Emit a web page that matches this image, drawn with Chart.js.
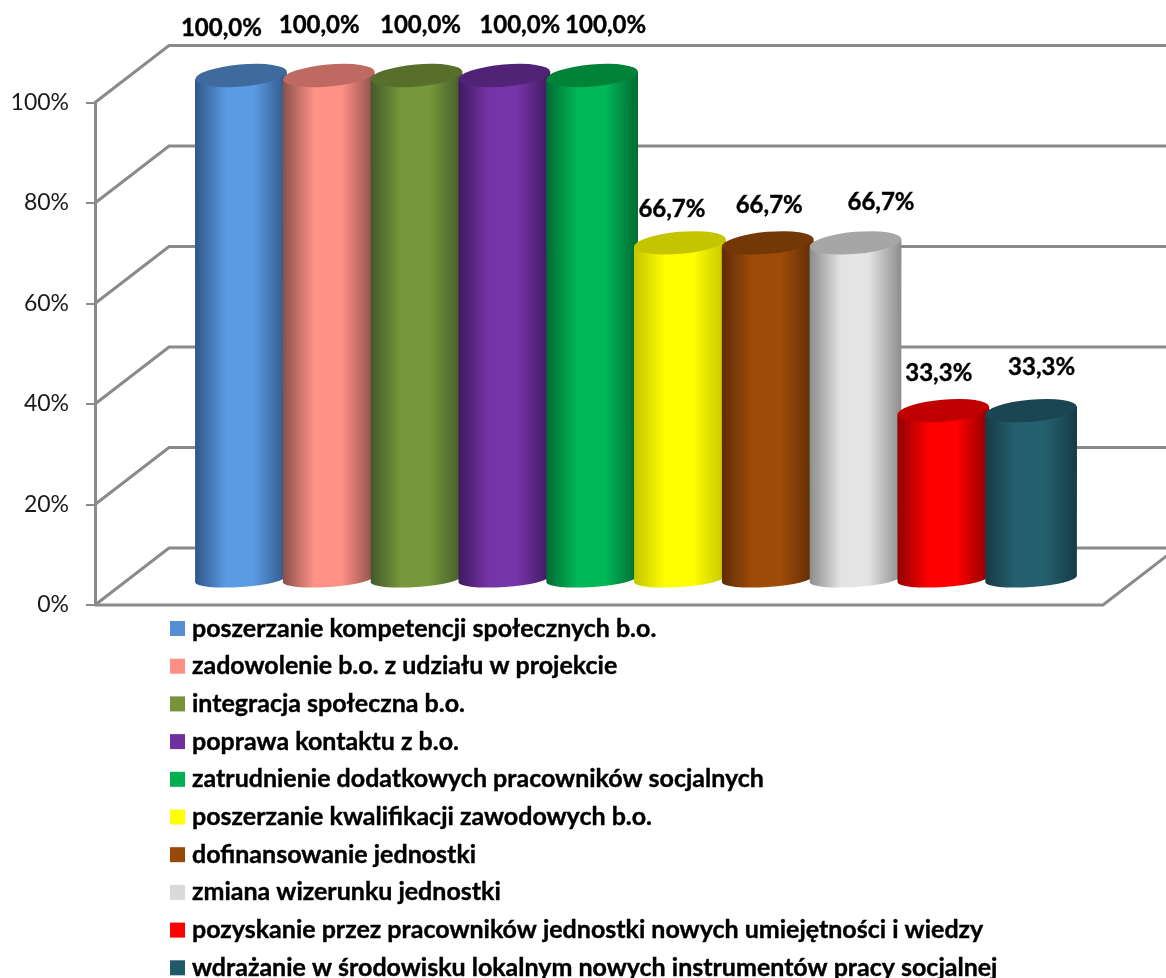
<!DOCTYPE html>
<html>
<head>
<meta charset="utf-8">
<title>Chart</title>
<script src="https://cdn.jsdelivr.net/npm/chart.js@4/dist/chart.umd.min.js"></script>
<style>
  html, body { margin: 0; padding: 0; background: #fff; }
  canvas { display: block; }
</style>
</head>
<body>
<canvas id="myChart" width="1166" height="978"></canvas>
<script>
const categories = [
  "poszerzanie kompetencji społecznych b.o.",
  "zadowolenie b.o. z udziału w projekcie",
  "integracja społeczna b.o.",
  "poprawa kontaktu z b.o.",
  "zatrudnienie dodatkowych pracowników socjalnych",
  "poszerzanie kwalifikacji zawodowych b.o.",
  "dofinansowanie jednostki",
  "zmiana wizerunku jednostki",
  "pozyskanie przez pracowników jednostki nowych umiejętności i wiedzy",
  "wdrażanie w środowisku lokalnym nowych instrumentów pracy socjalnej",
];
const seriesValues = [100, 100, 100, 100, 100, 66.7, 66.7, 66.7, 33.3, 33.3];
const barColors = ["#5B9AE5", "#FF9186", "#76983B", "#7534A8", "#00B858", "#FFFF00", "#A04C08", "#E4E4E4", "#FF0000", "#25606F"];
const topColors = ["#3F6A9E", "#BE6A62", "#586F2C", "#512377", "#008239", "#C4C400", "#743706", "#A6A6A6", "#C00000", "#1B4552"];
const edgeColors = ["#2F5686", "#8A4F49", "#46592A", "#40195F", "#006A32", "#C4C400", "#5E2C05", "#8C8C8C", "#8F0000", "#153B46"];
const legendColors = ["#558ED5", "#FF8F83", "#77933C", "#7030A0", "#00B050", "#FFFF00", "#984807", "#D9D9D9", "#FF0000", "#215968"];

// hand moved data labels: offset from the cylinder top
const labelShiftX = [-19.5, -9.5, 4, 15.5, 13.5, -8, 1.5, 25.5, -4.5, 10.5];
const labelShiftY = [-47, -50, -50, -50, -50, -34, -38, -41, -37, -43];

const gridTicks = [0, 20, 40, 60, 80, 100];

// offset of the back wall and of the bars plane from the front plane
const DEPTH_X = 74, DEPTH_Y = -57;
const BAR_X = 37, BAR_Y = -27;
const LINE_GRAY = "#8A8A8A";

const wallPlugin = {
  id: "walls",
  beforeDatasetsDraw(chart) {
    const { ctx, chartArea, scales } = chart;
    ctx.save();
    ctx.strokeStyle = LINE_GRAY;
    ctx.lineWidth = 3;
    gridTicks.forEach((t) => {
      const y = scales.y.getPixelForValue(t);
      ctx.beginPath();
      ctx.moveTo(chartArea.left, y);
      ctx.lineTo(chartArea.left + DEPTH_X, y + DEPTH_Y);
      ctx.lineTo(chart.width, y + DEPTH_Y);
      ctx.stroke();
    });
    // floor
    ctx.beginPath();
    ctx.moveTo(chartArea.left, chartArea.bottom);
    ctx.lineTo(chartArea.right, chartArea.bottom);
    ctx.lineTo(chartArea.right + DEPTH_X, chartArea.bottom + DEPTH_Y);
    ctx.stroke();
    ctx.restore();
    // bars sit in the middle of the depth
    ctx.save();
    ctx.translate(BAR_X, BAR_Y);
  },
  afterDatasetsDraw(chart) {
    const { ctx } = chart;
    ctx.restore();

    // cylinders over the plain bars, left to right, each one overlaps the previous
    chart.data.datasets.forEach((ds, i) => {
      const bar = chart.getDatasetMeta(i).data[0];
      const cx = bar.x + BAR_X;
      const half = bar.width / 2 + 2;
      const topY = bar.y + BAR_Y;
      const baseY = bar.base + BAR_Y + 2;

      const grad = ctx.createLinearGradient(cx - half, 0, cx + half, 0);
      grad.addColorStop(0, edgeColors[i]);
      grad.addColorStop(0.34, barColors[i]);
      grad.addColorStop(0.64, barColors[i]);
      grad.addColorStop(1, edgeColors[i]);

      ctx.save();
      ctx.fillStyle = grad;
      ctx.beginPath();
      ctx.moveTo(cx - half, topY + 4);
      ctx.ellipse(cx, baseY, half, 8, -4 * Math.PI / 180, Math.PI, 0, true);
      ctx.lineTo(cx + half, topY - 4);
      ctx.closePath();
      ctx.fill();

      ctx.fillStyle = topColors[i];
      ctx.beginPath();
      ctx.ellipse(cx, topY, half, 11, -5 * Math.PI / 180, 0, Math.PI * 2);
      ctx.fill();
      ctx.restore();
    });

    // data labels
    ctx.save();
    ctx.fillStyle = "#000";
    ctx.strokeStyle = "#000";
    ctx.lineWidth = 0.4;
    ctx.font = "bold 24px Lato";
    ctx.textAlign = "center";
    ctx.textBaseline = "middle";
    chart.data.datasets.forEach((ds, i) => {
      const bar = chart.getDatasetMeta(i).data[0];
      const txt = ds.data[0].toFixed(1).replace(".", ",") + "%";
      const tx = bar.x + BAR_X + labelShiftX[i];
      const ty = bar.y + BAR_Y + labelShiftY[i];
      ctx.fillText(txt, tx, ty);
      ctx.strokeText(txt, tx, ty);
    });
    ctx.restore();

    // legend, one long column under the plot
    ctx.save();
    ctx.font = "bold 25px Lato";
    ctx.textAlign = "left";
    ctx.textBaseline = "middle";
    ctx.strokeStyle = "#000";
    ctx.lineWidth = 0.4;
    categories.forEach((name, i) => {
      const y = 628.5 + i * 37.7;
      ctx.fillStyle = legendColors[i];
      ctx.fillRect(170, y - 7.5, 15, 15);
      ctx.fillStyle = "#000";
      ctx.fillText(name, 192, y);
      ctx.strokeText(name, 192, y);
    });
    ctx.restore();
  },
};

const ctx = document.getElementById("myChart").getContext("2d");
new Chart(ctx, {
  type: "bar",
  data: {
    labels: [""],
    datasets: categories.map((name, i) => ({
      label: name,
      data: [seriesValues[i]],
      backgroundColor: barColors[i],
      borderWidth: 0,
    })),
  },
  options: {
    responsive: false,
    animation: false,
    categoryPercentage: 878 / 1008,
    barPercentage: 1,
    layout: { padding: { top: 102.5, right: 63, bottom: 373, left: 0 } },
    scales: {
      x: { display: false },
      y: {
        min: 0,
        max: 100,
        afterFit: (scale) => { scale.width = 95; },
        border: { display: true, color: LINE_GRAY, width: 3 },
        grid: { drawOnChartArea: false, drawTicks: true, tickLength: 9, color: LINE_GRAY, lineWidth: 2 },
        ticks: {
          stepSize: 20,
          padding: 17,
          color: "#1a1a1a",
          font: { family: "Lato", size: 23 },
          callback: (v) => v + "%",
        },
      },
    },
    plugins: {
      legend: { display: false },
      title: { display: false },
      tooltip: { enabled: false },
    },
  },
  plugins: [wallPlugin],
});
</script>
</body>
</html>
